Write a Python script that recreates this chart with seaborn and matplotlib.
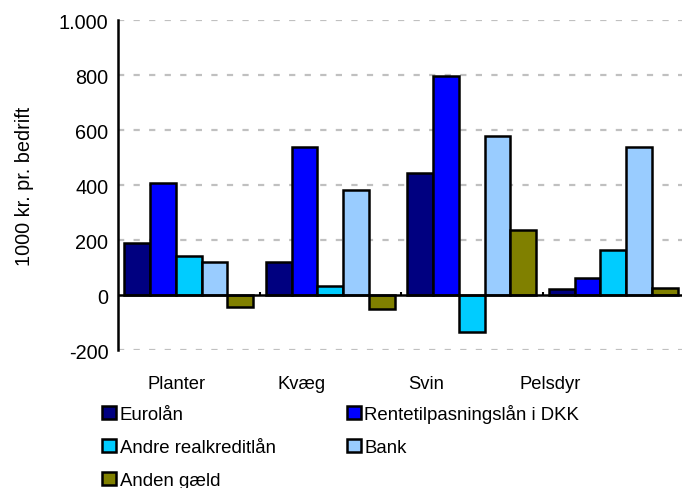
import matplotlib
matplotlib.use("Agg")
import matplotlib.pyplot as plt
from matplotlib.ticker import FuncFormatter
from matplotlib.patches import Patch
import seaborn as sns
import pandas as pd

categories = ["Planter", "Kvæg", "Svin", "Pelsdyr"]
series = ["Eurolån", "Rentetilpasningslån i DKK", "Andre realkreditlån", "Bank", "Anden gæld"]
eurolaan = [191, 119, 445, 22]
rentetil = [407, 537, 797, 62]
andre = [143, 34, -136, 164]
bank = [120, 383, 579, 537]
anden = [-42, -51, 235, 25]
colors = ["#000080", "#0000FF", "#00CCFF", "#99CCFF", "#808000"]
yticks = [-200, 0, 200, 400, 600, 800, 1000]

rows = []
for s, vals in zip(series, [eurolaan, rentetil, andre, bank, anden]):
    for c, v in zip(categories, vals):
        rows.append({"kategori": c, "serie": s, "vaerdi": v})
df = pd.DataFrame(rows)

sns.set_style("white")
plt.rcParams['font.family'] = ['Liberation Sans', 'DejaVu Sans']
plt.rcParams['text.color'] = 'black'
plt.rcParams['xtick.color'] = 'black'
plt.rcParams['ytick.color'] = 'black'
plt.rcParams['axes.labelcolor'] = 'black'

fig = plt.figure(figsize=(6.82, 4.89), dpi=100)
ax = fig.add_axes([0.173, 0.282, 0.83, 0.675])

sns.barplot(data=df, x="kategori", y="vaerdi", hue="serie", order=categories,
            hue_order=series, palette=colors, width=0.91, gap=0,
            edgecolor="black", linewidth=1.8, saturation=1, ax=ax, legend=False)

ax.set_ylim(-200, 1000)
ax.set_xlim(-0.5, 3.5)
ax.set_yticks(yticks)
ax.yaxis.set_major_formatter(FuncFormatter(lambda v, p: f"{int(v):,}".replace(",", ".")))
for y in yticks:
    if y != 0:
        ax.axhline(y, color="#c0c0c0", lw=1.6, ls=(0, (2.8, 4.2)), zorder=0)
ax.axhline(0, color="black", lw=1.8, zorder=3)
ax.vlines([0.5, 1.5, 2.5], 0, 12, color="black", lw=1.5, zorder=3)

for side in ["top", "right", "bottom"]:
    ax.spines[side].set_visible(False)
ax.spines["left"].set_color("black")
ax.spines["left"].set_linewidth(1.8)
ax.tick_params(axis="y", direction="inout", length=10, width=1.8, labelsize=14.3, pad=2)
ax.tick_params(axis="x", length=0, labelsize=13.2, pad=18)
ax.set_xticks([i * 0.88 - 0.085 for i in range(len(categories))])
ax.set_xticklabels(categories)
ax.set_xlabel("")
ax.set_ylabel("1000 kr. pr. bedrift", fontsize=14.3, labelpad=18)

handles = [Patch(facecolor=c, edgecolor="black", linewidth=1.8) for c in colors]
order = [0, 2, 4, 1, 3]
fig.legend([handles[i] for i in order], [series[i] for i in order], ncol=2,
           loc="upper left", bbox_to_anchor=(0.15, 0.172), frameon=False,
           fontsize=13.4, handlelength=0.75, handleheight=0.75, handletextpad=0.2,
           labelspacing=0.85, columnspacing=3.8, borderaxespad=0, borderpad=0)

fig.savefig("out.png", dpi=100)
